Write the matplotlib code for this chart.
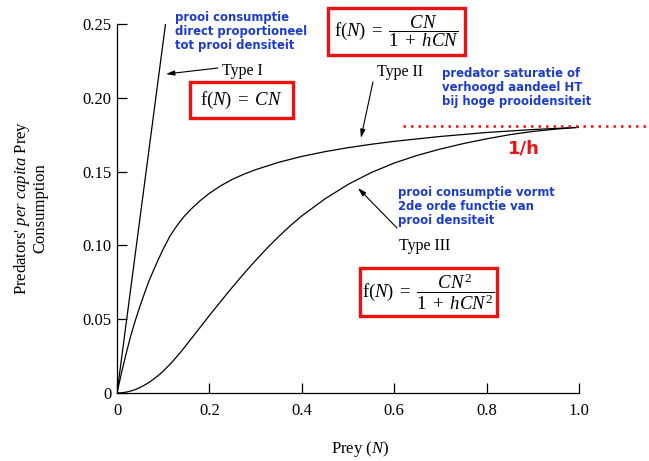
import matplotlib
matplotlib.use("Agg")
import matplotlib.pyplot as plt
from matplotlib.patches import Rectangle

plt.rcParams['font.family'] = ['Liberation Serif', 'DejaVu Serif']
plt.rcParams['mathtext.fontset'] = 'custom'
plt.rcParams['mathtext.rm'] = 'Liberation Serif'
plt.rcParams['mathtext.it'] = 'Liberation Serif:italic'

W, H = 649, 461

# values
n1 = [0.0, 0.105]
type1 = [0.0, 0.25]

n2 = [0, 0.005, 0.01, 0.015, 0.02, 0.03, 0.04, 0.05, 0.06, 0.07, 0.08, 0.09,
      0.1, 0.115, 0.13, 0.145, 0.16, 0.18, 0.2, 0.225, 0.25, 0.275, 0.3,
      0.35, 0.4, 0.45, 0.5, 0.55, 0.6, 0.7, 0.8, 0.9, 1.0]
type2 = [0, 0.007, 0.014, 0.0205, 0.027, 0.039, 0.0495, 0.059, 0.068, 0.0765,
         0.0838, 0.0908, 0.0975, 0.1065, 0.1135, 0.1195, 0.1245, 0.1303,
         0.1353, 0.1405, 0.1448, 0.1483, 0.1513, 0.1563, 0.1603, 0.1635,
         0.1662, 0.1685, 0.1705, 0.1738, 0.1765, 0.1785, 0.1800]

n3 = [0, 0.01, 0.02, 0.03, 0.04, 0.05, 0.06, 0.07, 0.08, 0.09, 0.1, 0.12,
      0.14, 0.16, 0.18, 0.2, 0.22, 0.24, 0.26, 0.28, 0.3, 0.325, 0.35, 0.375,
      0.4, 0.45, 0.5, 0.55, 0.6, 0.65, 0.7, 0.75, 0.8, 0.85, 0.9, 0.95, 1.0]
type3 = [0, 0.00015, 0.0006, 0.00135, 0.0024, 0.00375, 0.0054, 0.0073, 0.0096,
         0.012, 0.0148, 0.0212, 0.0285, 0.0365, 0.0445, 0.0525, 0.0603, 0.068,
         0.0755, 0.0828, 0.0898, 0.0982, 0.106, 0.1133, 0.120, 0.1315, 0.1413,
         0.1493, 0.1558, 0.161, 0.1653, 0.169, 0.1722, 0.175, 0.1772, 0.1788,
         0.180]

sat_level = 0.181
sat_n = [0.62, 1.15]

xticks = [0, 0.2, 0.4, 0.6, 0.8, 1.0]
xticklabels = ['0', '0.2', '0.4', '0.6', '0.8', '1.0']
yticks = [0, 0.05, 0.10, 0.15, 0.20, 0.25]
yticklabels = ['0', '0.05', '0.10', '0.15', '0.20', '0.25']

BLUE = '#1c3ccc'
RED = '#ee1111'


def fx(px):
    return px / W


def fy(py):
    return 1 - py / H


fig = plt.figure(figsize=(W / 100, H / 100), dpi=100)
ax = fig.add_axes([fx(117), fy(393), (579 - 117) / W, (393 - 24) / H])

ax.plot(n1, type1, color='black', lw=0.9)
ax.plot(n2, type2, color='black', lw=0.9)
ax.plot(n3, type3, color='black', lw=0.9)
ax.plot(sat_n, [sat_level, sat_level], color=RED, lw=1.8, ls=(0, (1, 2)),
        clip_on=False)

ax.set_xlim(0, 1.0)
ax.set_ylim(0, 0.25)
ax.set_xticks(xticks)
ax.set_xticklabels(xticklabels)
ax.set_yticks(yticks)
ax.set_yticklabels(yticklabels)
ax.tick_params(direction='in', length=7, width=0.9, labelsize=12)
ax.tick_params(axis='x', pad=7)
ax.tick_params(axis='y', pad=4)
for s in ['top', 'right']:
    ax.spines[s].set_visible(False)
for s in ['left', 'bottom']:
    ax.spines[s].set_linewidth(0.9)

arrow = dict(arrowstyle='-|>,head_length=0.5,head_width=0.15', color='black',
             lw=0.8, shrinkA=0, shrinkB=0)
ax.annotate('', xy=(0.106, 0.2161), xytext=(0.2186, 0.2202), arrowprops=arrow)
ax.annotate('', xy=(0.528, 0.1728), xytext=(0.554, 0.2107), arrowprops=arrow)
ax.annotate('', xy=(0.5216, 0.1389), xytext=(0.606, 0.1118), arrowprops=arrow)

ax.text(0.227, 0.218, 'Type I', fontsize=11.5, ha='left', va='center')
ax.text(0.6126, 0.2175, 'Type II', fontsize=11.5, ha='center', va='center')
ax.text(0.6667, 0.0996, 'Type III', fontsize=11.5, ha='center', va='center')

# axis labels
fig.text(fx(30), fy(208), "Predators' $\\mathit{per\\ capita}$ Prey\nConsumption",
         rotation=90, ha='center', va='center', fontsize=12, linespacing=1.05,
         multialignment='center')
fig.text(fx(360), fy(449), 'Prey ($N$)', ha='center', va='center', fontsize=12)

# blue notes
fig.text(fx(175), fy(32), 'prooi consumptie\ndirect proportioneel\ntot prooi densiteit',
         family='DejaVu Sans', weight='bold', color=BLUE, fontsize=8.4,
         ha='left', va='center', linespacing=1.1)
fig.text(fx(442), fy(87), 'predator saturatie of\nverhoogd aandeel HT\nbij hoge prooidensiteit',
         family='DejaVu Sans', weight='bold', color=BLUE, fontsize=8.4,
         ha='left', va='center', linespacing=1.1)
fig.text(fx(398), fy(206), 'prooi consumptie vormt\n2de orde functie van\nprooi densiteit',
         family='DejaVu Sans', weight='bold', color=BLUE, fontsize=8.4,
         ha='left', va='center', linespacing=1.1)

fig.text(fx(524), fy(148), '1/h', family='DejaVu Sans', weight='bold',
         color=RED, fontsize=13, ha='center', va='center')

# formula boxes
boxes = [
    ((190, 82, 293, 118), r'$\mathrm{f}(N)\;=\;CN$'),
    ((328, 8, 465, 55), r'$\mathrm{f}(N)\;=\;\dfrac{CN}{1\;+\;hCN}$'),
    ((360, 268, 497, 316), r'$\mathrm{f}(N)\;=\;\dfrac{CN^2}{1\;+\;hCN^2}$'),
]
for (x0, y0, x1, y1), txt in boxes:
    fig.patches.append(Rectangle((fx(x0), fy(y1)), (x1 - x0) / W, (y1 - y0) / H,
                                 transform=fig.transFigure, fill=False,
                                 edgecolor=RED, lw=2.4))
    fig.text(fx((x0 + x1) / 2), fy((y0 + y1) / 2), txt, ha='center',
             va='center', fontsize=13.5)

fig.savefig('out.png', dpi=100)
